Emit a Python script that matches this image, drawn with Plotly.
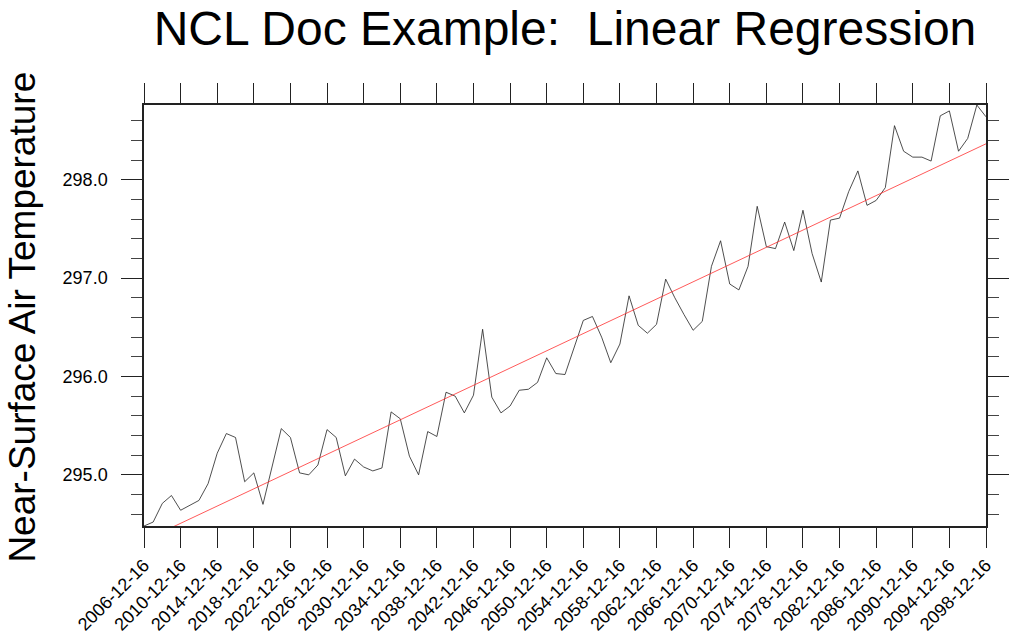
import numpy as np
import plotly.graph_objects as go

# ---- data ----
years = list(range(2006, 2099))
dates = [f"{y}-12-16" for y in years]
tas = [
    294.48, 294.52, 294.71, 294.79, 294.64, 294.69, 294.74, 294.91, 295.22, 295.42,
    295.38, 294.93, 295.02, 294.70, 295.09, 295.47, 295.38, 295.02, 295.00, 295.10,
    295.46, 295.38, 294.99, 295.16, 295.08, 295.04, 295.07, 295.64, 295.57, 295.19,
    295.00, 295.44, 295.39, 295.84, 295.80, 295.63, 295.81, 296.48, 295.79, 295.63,
    295.70, 295.86, 295.87, 295.94, 296.19, 296.03, 296.02, 296.30, 296.57, 296.61,
    296.40, 296.14, 296.33, 296.82, 296.52, 296.44, 296.53, 296.99, 296.80, 296.63,
    296.47, 296.56, 297.12, 297.38, 296.94, 296.88, 297.12, 297.73, 297.32, 297.30,
    297.57, 297.28, 297.69, 297.25, 296.96, 297.59, 297.61, 297.88, 298.09, 297.74,
    297.79, 297.92, 298.55, 298.29, 298.23, 298.23, 298.19, 298.65, 298.70, 298.29,
    298.42, 298.76, 298.64,
]
tick_years = list(range(2006, 2099, 4))
tick_dates = [f"{y}-12-16" for y in tick_years]
y_ticks = [295.0, 296.0, 297.0, 298.0]
y_ticktext = [f"{v:.1f}" for v in y_ticks]

title_text = "NCL Doc Example:  Linear Regression"
ytitle_text = "Near-Surface Air Temperature"

# regression line computed from the series
t = np.arange(len(tas), dtype=float)
slope, intercept = np.polyfit(t, np.array(tas), 1)
reg = intercept + slope * t

FONT = "Liberation Sans, Arial, Helvetica, sans-serif"

fig = go.Figure()
fig.add_trace(go.Scatter(x=dates, y=tas, mode="lines",
                         line=dict(color="#222222", width=0.8), showlegend=False))
fig.add_trace(go.Scatter(x=dates, y=reg, mode="lines",
                         line=dict(color="#ff3030", width=0.8), showlegend=False))

fig.update_layout(
    width=1016, height=637,
    margin=dict(l=144, r=30, t=105, b=111, autoexpand=False),
    paper_bgcolor="white", plot_bgcolor="white",
    font=dict(family=FONT, color="black"),
    title=dict(text=title_text, x=0.5, xref="paper", xanchor="center",
               y=1 - 28 / 637, yref="container", yanchor="middle",
               font=dict(family=FONT, size=48, color="black")),
)
fig.update_xaxes(
    type="date", range=[dates[0], dates[-1]], automargin=False,
    tickvals=tick_dates, ticktext=tick_dates, tickangle=-45,
    ticks="outside", ticklen=20, tickwidth=1.3, tickcolor="#222",
    showline=True, linewidth=1.5, linecolor="#222", mirror="allticks",
    showgrid=False, zeroline=False,
    tickfont=dict(family=FONT, size=18, color="black"),
)
fig.update_yaxes(
    range=[min(tas), max(tas)], automargin=False,
    tickvals=y_ticks, ticktext=y_ticktext,
    ticks="outside", ticklen=21, tickwidth=1.3, tickcolor="#222",
    minor=dict(dtick=0.2, tick0=295.0, ticks="outside", ticklen=11,
               tickwidth=1, tickcolor="#444", showgrid=False),
    showline=True, linewidth=1.5, linecolor="#222", mirror="allticks",
    showgrid=False, zeroline=False,
    tickfont=dict(family=FONT, size=18, color="black"),
    ticklabelstandoff=10,
)
fig.add_annotation(
    text=ytitle_text, textangle=-90,
    xref="paper", yref="paper", x=-(144 - 23) / 842, y=0.495,
    xanchor="center", yanchor="middle", showarrow=False,
    font=dict(family=FONT, size=37, color="black"),
)

fig.write_html(
    "out.html",
    config={"displayModeBar": False},
    post_script="document.body.style.margin='0';document.body.style.overflow='hidden';",
)
